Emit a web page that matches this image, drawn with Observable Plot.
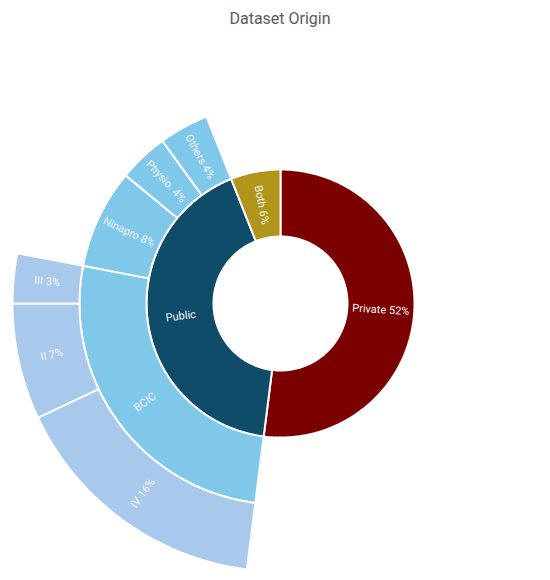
<!DOCTYPE html>
<html>
<head>
<meta charset="utf-8">
<script src="https://cdn.jsdelivr.net/npm/d3@7"></script>
<script src="https://cdn.jsdelivr.net/npm/@observablehq/plot@0.6"></script>
<style>
  html, body { margin: 0; padding: 0; background: #fff; }
  #title { width: 550px; height: 36px; line-height: 37px; text-align: center; font-family: Roboto, "Open Sans", sans-serif; font-size: 16px; color: #595959; padding-left: 10px; box-sizing: border-box; }
  #chart svg { display: block; }
</style>
</head>
<body>
<div id="title">Dataset Origin</div>
<div id="chart"></div>
<script>
// ---- data (shares in %) ----
const innerNames = ["Private", "Public", "Both"];
const innerShares = [52, null, 6];          // Public = sum of its children
const publicNames = ["BCIC", "Ninapro", "Physio.", "Others"];
const publicShares = [null, 8, 4, 4];       // BCIC = sum of its children
const bcicNames = ["IV", "II", "III"];
const bcicShares = [16, 7, 3];

// ---- colours ----
const innerColors = {Private: "#7B0000", Public: "#0F4C69", Both: "#B1951B"};
const midColor = "#7FC8EA";
const outerColor = "#A8C9EC";

const tree = {
  name: "root",
  children: innerNames.map((n, i) => n === "Public"
    ? {name: n, children: publicNames.map((m, j) => m === "BCIC"
        ? {name: m, children: bcicNames.map((b, k) => ({name: b, value: bcicShares[k]}))}
        : {name: m, value: publicShares[j]})}
    : {name: n, value: innerShares[i]})
};

const root = d3.hierarchy(tree).sum(d => d.value || 0);
d3.partition().size([360, 4])(root);

const rad = a => a * Math.PI / 180;
const polys = [];
const labels = [];
root.descendants().filter(d => d.depth > 0).forEach((d, idx) => {
  const color = d.depth === 1 ? innerColors[d.data.name] : d.depth === 2 ? midColor : outerColor;
  const n = Math.max(2, Math.ceil((d.x1 - d.x0) / 1));
  const pts = [];
  for (let i = 0; i <= n; i++) {
    const a = d.x0 + (d.x1 - d.x0) * i / n;
    pts.push([d.y1 * Math.sin(rad(a)), d.y1 * Math.cos(rad(a))]);
  }
  for (let i = n; i >= 0; i--) {
    const a = d.x0 + (d.x1 - d.x0) * i / n;
    pts.push([d.y0 * Math.sin(rad(a)), d.y0 * Math.cos(rad(a))]);
  }
  pts.forEach(([x, y]) => polys.push({id: idx, x, y, color}));
  const mid = (d.x0 + d.x1) / 2;
  const rm = (d.y0 + d.y1) / 2;
  const pct = Math.round(d.value);
  labels.push({
    x: rm * Math.sin(rad(mid)),
    y: rm * Math.cos(rad(mid)),
    text: d.children ? d.data.name : `${d.data.name} ${pct}%`,
    rotate: mid < 180 ? mid - 90 : mid - 270
  });
});

const k = 67;               // pixels per ring
const W = 550, H = 544, cx = 280, cy = 267;

const chart = Plot.plot({
  width: W,
  height: H,
  margin: 0,
  x: {domain: [-cx / k, (W - cx) / k], axis: null},
  y: {domain: [-(H - cy) / k, cy / k], axis: null},
  color: {type: "identity"},
  marks: [
    Plot.line(polys, {x: "x", y: "y", z: "id", fill: "color", stroke: "white", strokeWidth: 2, curve: "linear-closed", strokeLinejoin: "miter"}),
    Plot.text(labels, {x: "x", y: "y", text: "text", rotate: "rotate", fill: "#F4F4F4", fontSize: 11, fontFamily: "Roboto, sans-serif"})
  ]
});
document.getElementById("chart").appendChild(chart);
</script>
</body>
</html>
